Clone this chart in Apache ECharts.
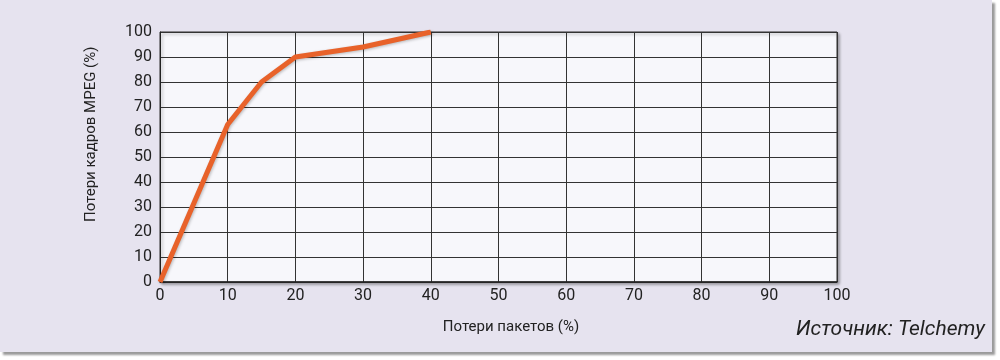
<!DOCTYPE html>
<html>
<head>
<meta charset="utf-8">
<script src="https://cdn.jsdelivr.net/npm/echarts@6/dist/echarts.min.js"></script>
<style>
html,body{margin:0;padding:0;background:#ffffff;}
#panel{position:absolute;left:0;top:0;width:992px;height:352px;background:#e6e3ef;box-shadow:3px 3px 2px #9a9a9a;}
#chart{position:absolute;left:0;top:0;width:1000px;height:360px;}
</style>
</head>
<body>
<div id="panel"></div>
<div id="chart"></div>
<script>
const xValues = [0, 10, 15, 20, 30, 40];
const yValues = [0, 63, 80, 90, 94, 100];
const xAxisTitle = 'Потери пакетов (%)';
const yAxisTitle = 'Потери кадров MPEG (%)';
const sourceText = 'Источник: Telchemy';

const font = '"Liberation Sans Narrow", "Roboto", sans-serif';
const chart = echarts.init(document.getElementById('chart'));
chart.setOption({
  backgroundColor: 'transparent',
  animation: false,
  grid: {
    left: 160, right: 163, top: 32, bottom: 78,
    show: true, backgroundColor: '#f7f7fb', borderColor: '#333', borderWidth: 1,
    shadowColor: 'rgba(0,0,0,0.35)', shadowBlur: 3, shadowOffsetX: 2, shadowOffsetY: 2
  },
  xAxis: {
    type: 'value', min: 0, max: 100, interval: 10,
    name: xAxisTitle, nameLocation: 'middle', nameGap: 38,
    nameTextStyle: { fontFamily: font, fontSize: 15, color: '#222', padding: [0, 0, 0, 25] },
    axisLine: { show: true, lineStyle: { color: '#222', width: 1.5 } },
    axisTick: { show: false },
    axisLabel: { fontFamily: font, fontSize: 16, color: '#222', margin: 6 },
    splitLine: { show: true, lineStyle: { color: '#333', width: 1 } }
  },
  yAxis: {
    type: 'value', min: 0, max: 100, interval: 10,
    axisLine: { show: true, lineStyle: { color: '#222', width: 1 } },
    axisTick: { show: false },
    axisLabel: { fontFamily: font, fontSize: 16, color: '#222', margin: 8 },
    splitLine: { show: true, lineStyle: { color: '#333', width: 1 } }
  },
  graphic: [
    {
      type: 'text',
      style: { text: yAxisTitle, fontFamily: font, fontSize: 15, fill: '#222' },
      x: 84, y: 222, rotation: Math.PI / 2
    },
    {
      type: 'text', right: 15, top: 319,
      style: { text: sourceText, fontFamily: font, fontSize: 21, fontStyle: 'italic', fill: '#222' }
    }
  ],
  series: [{
    type: 'line',
    data: xValues.map((x, i) => [x, yValues[i]]),
    symbol: 'none',
    lineStyle: { color: '#e8622a', width: 5, shadowColor: 'rgba(0,0,0,0.25)', shadowBlur: 3, shadowOffsetX: 1, shadowOffsetY: 1 },
    z: 5
  }]
});
</script>
</body>
</html>
